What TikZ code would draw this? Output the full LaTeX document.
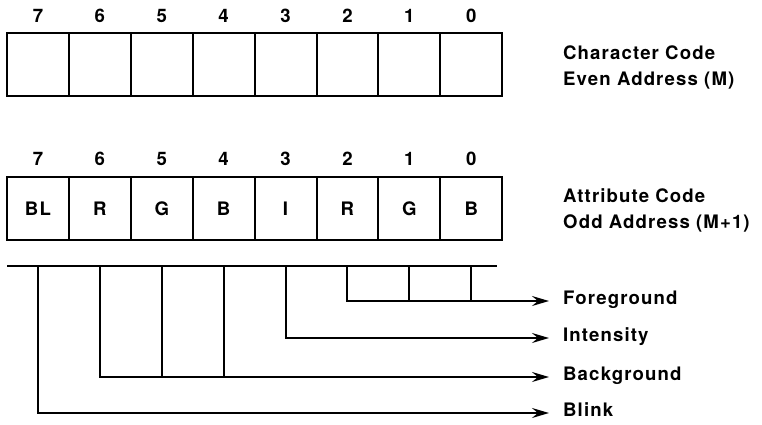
\documentclass[tikz,border=0pt]{standalone}
\usepackage{fontspec}
\setmainfont{TeX Gyre Heros}[LetterSpace=6]
\usetikzlibrary{arrows.meta}
\begin{document}
\begin{tikzpicture}[x=1pt,y=-1pt,font=\fontsize{18.6}{26}\selectfont\bfseries,
  cell/.style={draw,line width=2pt,minimum width=61.9pt,minimum height=63pt,inner sep=0},
  bitno/.style={inner sep=0},
  wire/.style={line width=2pt},
  feed/.style={-{Stealth[length=17pt,width=10pt,inset=6pt]},line width=2pt,shorten >=14pt},
  lab/.style={anchor=west,inner sep=0,align=left,text height=0.72em,text depth=0pt},
  side/.style={anchor=west,inner sep=0,align=left}]
  \useasboundingbox (0,0) rectangle (762,424);
  % character byte
  \foreach \b in {7,...,0} {
    \node[cell] (c\b) at ({37.95+61.9*(7-\b)},64.5) {};
    \node[bitno] (cn\b) at ({37.95+61.9*(7-\b)},16) {\b};
  }
  % attribute byte
  \foreach \b/\t in {7/BL,6/R,5/G,4/B,3/I,2/R,1/G,0/B} {
    \node[cell] (a\b) at ({37.95+61.9*(7-\b)},208.5) {\t};
    \node[bitno] (an\b) at ({37.95+61.9*(7-\b)},159) {\b};
  }
  \node[side] (chr) at (563,67.5) {Character Code\\Even Address (M)};
  \node[side] (att) at (563,210.5) {Attribute Code\\Odd Address (M+1)};

  \node[lab] (fg) at (563,301) {Foreground};
  \node[lab] (in) at (563,338) {Intensity};
  \node[lab] (bg) at (563,377) {Background};
  \node[lab] (bl) at (563,413) {Blink};

  \coordinate (bar) at (7,266);
  \coordinate (barend) at (497,266);
  \draw[wire] (bar) -- (barend);
  \foreach \b in {1,0} \draw[wire] (a\b |- bar) -- (a\b |- fg.west);
  \foreach \b in {5,4} \draw[wire] (a\b |- bar) -- (a\b |- bg.west);
  \draw[feed] (a2 |- bar) |- (fg.west);
  \draw[feed] (a3 |- bar) |- (in.west);
  \draw[feed] (a6 |- bar) |- (bg.west);
  \draw[feed] (a7 |- bar) |- (bl.west);
\end{tikzpicture}
\end{document}
